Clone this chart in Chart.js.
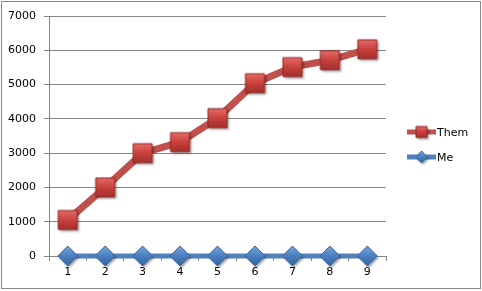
<!DOCTYPE html>
<html>
<head>
<meta charset="utf-8">
<script src="https://cdn.jsdelivr.net/npm/chart.js@4"></script>
<style>
  html, body { margin: 0; padding: 0; background: #fff; }
  #wrap { width: 482px; height: 291px; position: relative; }
</style>
</head>
<body>
<div id="wrap"><canvas id="chart-canvas"></canvas></div>
<script>
let categories = ['1', '2', '3', '4', '5', '6', '7', '8', '9'];
let themValues = [1050, 2000, 3000, 3320, 4020, 5040, 5510, 5710, 6030];
let meValues = [0, 0, 0, 0, 0, 0, 0, 0, 0];
let seriesNames = ['Them', 'Me'];

// bevelled excel-ish markers drawn once on small canvases
function makeMarker(kind, size) {
    let c = document.createElement('canvas');
    let pad = 4;
    c.width = size + pad * 2;
    c.height = size + pad * 2;
    let g = c.getContext('2d');
    let h = size / 2;
    let cx = pad + h, cy = pad + h;
    function shape() {
        g.beginPath();
        if (kind === 'square') {
            g.rect(cx - h, cy - h, size, size);
        } else {
            g.moveTo(cx, cy - h);
            g.lineTo(cx + h, cy);
            g.lineTo(cx, cy + h);
            g.lineTo(cx - h, cy);
            g.closePath();
        }
    }
    g.save();
    g.shadowColor = 'rgba(0,0,0,0.35)';
    g.shadowOffsetX = 1.5;
    g.shadowOffsetY = 2;
    g.shadowBlur = 2;
    shape();
    let grad = g.createLinearGradient(0, cy - h, 0, cy + h);
    if (kind === 'square') {
        grad.addColorStop(0, '#e86a66');
        grad.addColorStop(0.5, '#c8413d');
        grad.addColorStop(1, '#a42f2c');
    } else {
        grad.addColorStop(0, '#7aa6dc');
        grad.addColorStop(0.5, '#4a7fc0');
        grad.addColorStop(1, '#35639c');
    }
    g.fillStyle = grad;
    g.fill();
    g.restore();
    shape();
    g.lineWidth = 1;
    g.strokeStyle = kind === 'square' ? '#8c2a27' : '#3a6699';
    g.stroke();
    return c;
}

let redBox = makeMarker('square', 19);
let blueDiamond = makeMarker('diamond', 20);
let redBoxSmall = makeMarker('square', 11);
let blueDiamondSmall = makeMarker('diamond', 12);

let frame = {
    id: 'frame',
    afterDraw(chart) {
        let ctx = chart.ctx;
        ctx.save();
        ctx.strokeStyle = '#8a8a8a';
        ctx.lineWidth = 1;
        ctx.strokeRect(1.5, 1.5, 479, 287);

        // legend
        let items = [
            { name: seriesNames[0], color: '#c0504d', y: 132, img: redBoxSmall },
            { name: seriesNames[1], color: '#4f81bd', y: 157, img: blueDiamondSmall }
        ];
        ctx.font = '11px "DejaVu Sans"';
        ctx.textBaseline = 'middle';
        ctx.fillStyle = '#000';
        items.forEach(function (it) {
            ctx.strokeStyle = it.color;
            ctx.lineWidth = 5;
            ctx.beginPath();
            ctx.moveTo(407, it.y);
            ctx.lineTo(436, it.y);
            ctx.stroke();
            ctx.drawImage(it.img, 421.5 - it.img.width / 2, it.y - it.img.height / 2);
            ctx.fillText(it.name, 437, it.y + 1);
        });
        ctx.restore();
    }
};

let ctx = document.getElementById('chart-canvas').getContext('2d');
let lineChart = new Chart(ctx, {
    type: 'line',
    data: {
        labels: categories,
        datasets: [{
            label: seriesNames[0],
            data: themValues,
            borderColor: '#c0504d',
            borderWidth: 7,
            pointStyle: redBox,
            clip: false,
            tension: 0
        }, {
            label: seriesNames[1],
            data: meValues,
            borderColor: '#4f81bd',
            borderWidth: 5,
            pointStyle: blueDiamond,
            clip: false,
            tension: 0
        }]
    },
    options: {
        responsive: true,
        maintainAspectRatio: false,
        animation: false,
        layout: {
            padding: { left: 0, right: 96, top: 16, bottom: 0 }
        },
        plugins: {
            legend: { display: false },
            tooltip: { enabled: false }
        },
        scales: {
            x: {
                offset: true,
                grid: {
                    offset: true,
                    drawOnChartArea: false,
                    drawTicks: true,
                    tickLength: 5,
                    color: '#868686'
                },
                border: { color: '#868686' },
                ticks: {
                    color: '#000',
                    padding: 5,
                    maxRotation: 0,
                    font: { family: 'DejaVu Sans', size: 11 }
                },
                afterFit(scale) { scale.height = 35; }
            },
            y: {
                min: 0,
                max: 7000,
                grid: {
                    color: '#868686',
                    tickLength: 5
                },
                border: { color: '#868686' },
                ticks: {
                    stepSize: 1000,
                    color: '#000',
                    padding: 8,
                    font: { family: 'DejaVu Sans', size: 11 },
                    callback: function (value) { return String(value); }
                },
                afterFit(scale) { scale.width = 49; }
            }
        }
    },
    plugins: [frame]
});
</script>
</body>
</html>
